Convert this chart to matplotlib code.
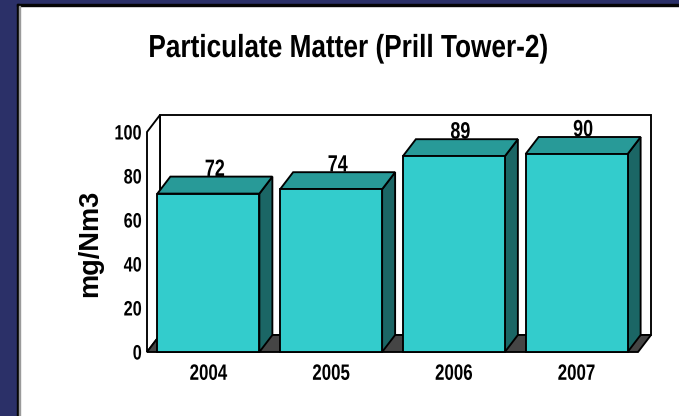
import matplotlib
matplotlib.use("Agg")
import matplotlib.pyplot as plt
from matplotlib.patches import Polygon, Rectangle
from matplotlib.patheffects import AbstractPathEffect
from matplotlib.transforms import Affine2D

# Data
years = ["2004", "2005", "2006", "2007"]
pm_values = [72, 74, 89, 90]
y_ticks = [0, 20, 40, 60, 80, 100]
title = "Particulate Matter (Prill Tower-2)"
y_label = "mg/Nm3"

FONT = "Liberation Sans"


class Condensed(AbstractPathEffect):
    """Squeeze glyphs horizontally (narrow-face look) about a chosen anchor."""

    def __init__(self, sx, anchor="center"):
        super().__init__()
        self.sx = sx
        self.anchor = anchor

    def draw_path(self, renderer, gc, tpath, affine, rgbFace=None):
        ext = tpath.get_extents()
        if self.anchor == "right":
            cx = ext.x1
        elif self.anchor == "left":
            cx = ext.x0
        else:
            cx = 0.5 * (ext.x0 + ext.x1)
        squeeze = Affine2D().translate(-cx, 0).scale(self.sx, 1).translate(cx, 0)
        renderer.draw_path(gc, tpath, squeeze + affine, rgbFace)


W, H = 679, 416
fig = plt.figure(figsize=(W / 100, H / 100), dpi=100)
fig.patch.set_facecolor("white")

# Slide frame: navy bands on the left and top with a dark rule
navy = "#2b3068"
ft = fig.transFigure
fig.patches.append(Rectangle((0, 0), 17 / W, 1, transform=ft, color=navy, zorder=0))
fig.patches.append(Rectangle((0, 1 - 4 / H), 1, 4 / H, transform=ft, color=navy, zorder=0))
fig.patches.append(Rectangle((17 / W, 0), 2 / W, 1 - 4 / H, transform=ft, color="#050505", zorder=0))
fig.patches.append(Rectangle((17 / W, 1 - 6 / H), 1 - 17 / W, 2 / H, transform=ft, color="#050505", zorder=0))
fig.patches.append(Rectangle((19 / W, 0), 1.2 / W, 1 - 6 / H, transform=ft, color="#9a9a9a", zorder=0))

# Plot area
ax = fig.add_axes([147 / W, 64 / H, 491 / W, 220 / H])
ax.set_xlim(-0.5, len(years) - 0.5)
ax.set_ylim(0, 100)
ax.patch.set_visible(False)
for s in ax.spines.values():
    s.set_visible(False)

# 3-D depth offset expressed in data units
dx = 13 / 491 * len(years)
dy = 17 / 220 * 100
lw = 1.35
edge = "black"

x_lo, x_hi = -0.5, len(years) - 0.5
# back wall
ax.add_patch(Polygon([(x_lo + dx, dy), (x_hi + dx, dy), (x_hi + dx, 100 + dy), (x_lo + dx, 100 + dy)],
                     closed=True, facecolor="white", edgecolor=edge, lw=lw, clip_on=False, zorder=1))
# side wall
ax.add_patch(Polygon([(x_lo, 0), (x_lo, 100), (x_lo + dx, 100 + dy), (x_lo + dx, dy)],
                     closed=True, facecolor="white", edgecolor=edge, lw=lw, clip_on=False, zorder=1))
# floor
ax.add_patch(Polygon([(x_lo, 0), (x_hi, 0), (x_hi + dx, dy), (x_lo + dx, dy)],
                     closed=True, facecolor="#454545", edgecolor=edge, lw=lw, clip_on=False, zorder=2))

front_c, top_c, side_c = "#33cccc", "#289a98", "#1b6665"
bw = 102 / 491 * len(years)
for i, v in enumerate(pm_values):
    x0, x1 = i - bw / 2, i + bw / 2
    ax.add_patch(Polygon([(x1, 0), (x1, v), (x1 + dx, v + dy), (x1 + dx, dy)], closed=True,
                         facecolor=side_c, edgecolor=edge, lw=lw, clip_on=False, zorder=3))
    ax.add_patch(Polygon([(x0, v), (x1, v), (x1 + dx, v + dy), (x0 + dx, v + dy)], closed=True,
                         facecolor=top_c, edgecolor=edge, lw=lw, clip_on=False, zorder=3))
    ax.add_patch(Rectangle((x0, 0), bw, v, facecolor=front_c, edgecolor=edge, lw=lw,
                           clip_on=False, zorder=4))
    ax.text(i + dx / 2, v + dy + 0.3, str(v), ha="center", va="baseline", fontsize=17,
            fontweight="bold", family=FONT, zorder=5,
            path_effects=[Condensed(0.76)])

ax.set_xticks(range(len(years)))
ax.set_xticklabels(years, fontsize=16, fontweight="bold", family=FONT)
for t in ax.get_xticklabels():
    t.set_path_effects([Condensed(0.76)])
ax.set_yticks(y_ticks)
ax.set_yticklabels([str(t) for t in y_ticks], fontsize=15, fontweight="bold", family=FONT)
for t in ax.get_yticklabels():
    t.set_path_effects([Condensed(0.78, anchor="right")])
ax.tick_params(axis="both", length=0)
ax.tick_params(axis="x", pad=8.5)
ax.tick_params(axis="y", pad=3.6)

fig.text(90 / W, 1 - 243 / H, y_label, rotation=90, ha="center", va="center",
         fontsize=19.5, fontweight="bold", family=FONT)
fig.text(348.5 / W, 1 - 57 / H, title, ha="center", va="baseline",
         fontsize=23, fontweight="bold", family=FONT,
         path_effects=[Condensed(0.82)])

fig.savefig("out.png", dpi=100)
